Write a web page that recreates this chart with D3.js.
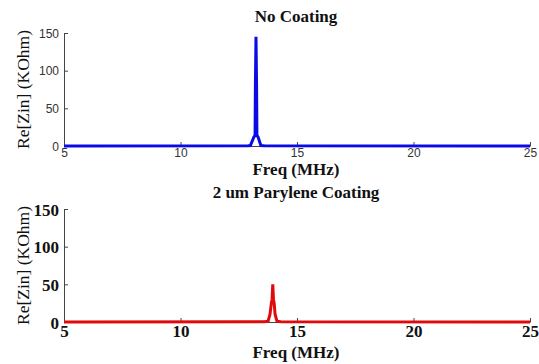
<html>
<head>
<meta charset="UTF-8">
<title>Re[Zin]</title>
<script src="https://d3js.org/d3.v7.min.js"></script>
<style>
  body { margin: 0; background: #fff; }
  svg { display: block; }
</style>
</head>
<body>
<svg width="539" height="364"></svg>
<script>
// data
var freqTicks = [5, 10, 15, 20, 25];
var zTicks = [0, 50, 100, 150];

var freqTop = [5, 12.9, 13.0, 13.15, 13.2, 13.215, 13.24, 13.265, 13.28, 13.33, 13.45, 13.6, 25];
var zTop    = [0.1, 0.2, 0.5, 12, 14, 80, 145, 80, 14, 12, 0.5, 0.2, 0.1];

var freqBot = [5, 13.6, 13.76, 13.84, 13.9, 13.93, 13.96, 13.99, 14.02, 14.06, 14.14, 14.3, 25];
var zBot    = [0.1, 0.2, 1, 10, 25, 30, 50, 30, 25, 10, 1, 0.2, 0.1];

var SERIF = "'Liberation Serif', 'Times New Roman', serif";
var SANS = "'Liberation Sans', Arial, sans-serif";

var svg = d3.select("svg");
var left = 64, right = 530;

var xScale = d3.scaleLinear().domain([5, 25]).range([left, right]);

function panel(cfg) {
  var yScale = d3.scaleLinear().domain([0, 150]).range([cfg.bottom, cfg.top]);
  var g = svg.append("g");

  var xAxis = d3.axisBottom(xScale).tickValues(freqTicks).tickSizeInner(-4).tickSizeOuter(0);
  var yAxis = d3.axisLeft(yScale).tickValues(zTicks).tickSizeInner(-4).tickSizeOuter(0).tickPadding(5);

  var gx = g.append("g").attr("transform", "translate(0," + cfg.bottom + ")").call(xAxis);
  var gy = g.append("g").attr("transform", "translate(" + left + ",0)").call(yAxis);

  [gx, gy].forEach(function(a) {
    a.selectAll("path, line").attr("stroke", "#444");
    a.selectAll("text")
      .style("font-family", cfg.tickFont)
      .style("font-size", cfg.tickSize + "px")
      .style("font-weight", cfg.tickWeight)
      .attr("fill", cfg.tickColor);
  });
  gx.selectAll("text").attr("dy", null).attr("y", cfg.xTickBase - cfg.bottom);
  gy.selectAll("text").attr("dy", "0.36em");

  var line = d3.line()
    .x(function(d) { return xScale(d[0]); })
    .y(function(d) { return yScale(d[1]); });

  g.append("path")
    .datum(d3.zip(cfg.freq, cfg.z))
    .attr("d", line)
    .attr("fill", "none")
    .attr("stroke", cfg.color)
    .attr("stroke-width", 3);

  g.append("text")
    .attr("x", 296).attr("y", cfg.titleY)
    .attr("text-anchor", "middle")
    .style("font-family", SERIF)
    .style("font-weight", "bold")
    .style("font-size", "17px")
    .attr("fill", "#111")
    .text(cfg.title);

  g.append("text")
    .attr("x", 296).attr("y", cfg.xLabelY)
    .attr("text-anchor", "middle")
    .style("font-family", SERIF)
    .style("font-weight", "bold")
    .style("font-size", "17px")
    .attr("fill", "#111")
    .text("Freq (MHz)");

  g.append("text")
    .attr("transform", "translate(" + cfg.yLabelX + "," + ((cfg.top + cfg.bottom) / 2) + ") rotate(-90)")
    .attr("text-anchor", "middle")
    .style("font-family", SERIF)
    .style("font-size", "17.5px")
    .attr("fill", "#111")
    .text("Re[Zin] (KOhm)");
}

panel({
  top: 33, bottom: 146, freq: freqTop, z: zTop, color: "#0a0ae6",
  title: "No Coating", titleY: 22, xLabelY: 175, yLabelX: 29, xTickBase: 157,
  tickFont: SANS, tickSize: 12, tickWeight: "normal", tickColor: "#333"
});

panel({
  top: 209, bottom: 322, freq: freqBot, z: zBot, color: "#e00a0a",
  title: "2 um Parylene Coating", titleY: 198, xLabelY: 358, yLabelX: 29, xTickBase: 337,
  tickFont: SERIF, tickSize: 17, tickWeight: "bold", tickColor: "#111"
});
</script>
</body>
</html>
